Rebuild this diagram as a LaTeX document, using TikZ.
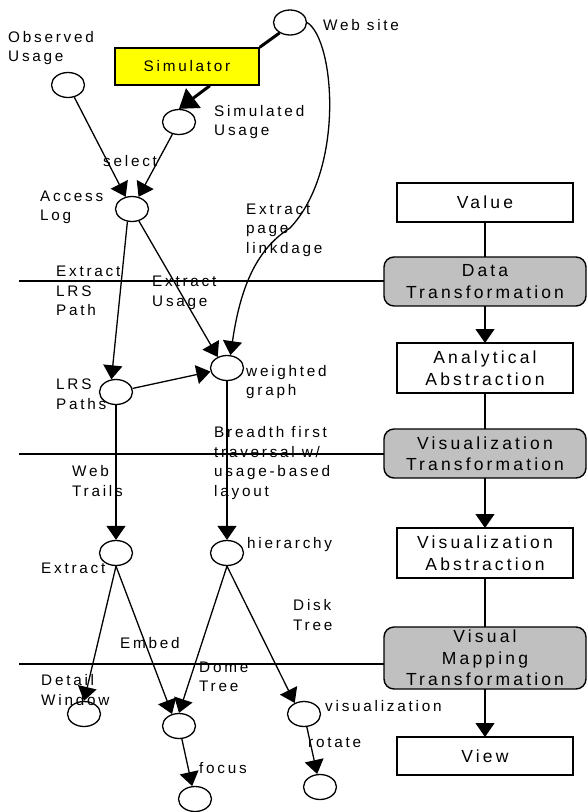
\documentclass[tikz,border=0pt]{standalone}
\usepackage{fontspec}
\setmainfont{Liberation Sans}[LetterSpace=18]
\usepackage{xcolor}
\usetikzlibrary{arrows.meta,positioning,shapes.geometric}
\definecolor{simyellow}{RGB}{255,255,0}
\definecolor{opgray}{RGB}{192,192,192}
\newcommand{\lblfont}{\fontsize{15.3}{19.5}\selectfont}
\newcommand{\boxfont}{\fontsize{17.5}{21.5}\selectfont}
\tikzset{
  datanode/.style={
    ellipse,
    draw=black,
    line width=1.3pt,
    minimum width=33pt,
    minimum height=25pt,
    inner sep=0pt,
    fill=white
  },
  lbl/.style={
    anchor=west,
    align=left,
    inner sep=0pt,
    font=\lblfont
  },
  stagebox/.style={
    rectangle,
    draw=black,
    line width=1.4pt,
    minimum width=176pt,
    outer sep=0pt,
    align=center,
    font=\boxfont,
    fill=white
  },
  opbox/.style={
    rectangle,
    rounded corners=10pt,
    draw=black,
    line width=1.4pt,
    minimum width=202pt,
    outer sep=0pt,
    inner sep=1pt,
    align=center,
    font=\boxfont,
    fill=opgray
  },
  simbox/.style={
    rectangle,
    draw=black,
    line width=1.4pt,
    minimum width=144pt,
    minimum height=37pt,
    font=\lblfont,
    fill=simyellow
  },
  link/.style={line width=1.3pt, black},
  flow/.style={-{Triangle[length=14pt,width=19pt]}, line width=1.3pt, black},
  heavy/.style={-{Triangle[length=18pt,width=24pt]}, line width=3pt, black}
}

\begin{document}
\begin{tikzpicture}[x=1pt,y=-1pt]
\useasboundingbox (0,0) rectangle (587,812);

\node[stagebox, minimum height=39pt] (value) at (485,202.5) {Value};
\node[opbox, minimum height=49pt, below=35pt of value] (dtrans) {Data\\Transformation};
\node[stagebox, minimum height=50pt, below=37pt of dtrans] (aabs) {Analytical\\Abstraction};
\node[opbox, minimum height=49pt, below=36pt of aabs] (vtrans) {Visualization\\Transformation};
\node[stagebox, minimum height=50pt, below=50pt of vtrans] (vabs) {Visualization\\Abstraction};
\node[opbox, minimum height=62pt, below=49pt of vabs] (vmtrans) {Visual\\Mapping\\Transformation};
\node[stagebox, minimum height=38pt, below=48pt of vmtrans] (view) {View};

\draw[link] (value) -- (dtrans);
\draw[flow] (dtrans) -- (aabs);
\draw[link] (aabs) -- (vtrans);
\draw[flow] (vtrans) -- (vabs);
\draw[link] (vabs) -- (vmtrans);
\draw[flow] (vmtrans) -- (view);

\coordinate (cut1) at (19,281);
\coordinate (cut2) at (19,454);
\coordinate (cut3) at (19,664);
\draw[link] (cut1) -- (cut1 -| dtrans.west);
\draw[link] (cut2) -- (cut2 -| vtrans.west);
\draw[link] (cut3) -- (cut3 -| vmtrans.west);

\node[datanode] (web) at (290,22.5) {};
\node[simbox] (simulator) at (187,66.5) {Simulator};
\node[datanode] (obs) at (68,85) {};
\node[datanode] (simu) at (179,122) {};
\node[datanode] (alog) at (132,209) {};
\node[datanode] (lrs) at (116,392) {};
\node[datanode] (wg) at (227,368) {};
\node[datanode] (ext) at (116,553) {};
\node[datanode] (hier) at (227,553) {};
\node[datanode] (dwin) at (84,714) {};
\node[datanode] (dome) at (179,726) {};
\node[datanode] (vis) at (304,714) {};
\node[datanode] (foc) at (195,799) {};
\node[datanode] (rot) at (320,787) {};

\node[lbl] at (323,25) {Web site};
\node[lbl] at (8,48) {Observed\\Usage};
\node[lbl] at (214,122) {Simulated\\Usage};
\node[lbl] at (103,161) {select};
\node[lbl] at (40,207.5) {Access\\Log};
\node[lbl] at (246,230) {Extract\\page\\linkdage};
\node[lbl] at (56,291) {Extract\\LRS\\Path};
\node[lbl] at (152,293) {Extract\\Usage};
\node[lbl] at (56,394) {LRS\\Paths};
\node[lbl] at (246,382) {weighted\\graph};
\node[lbl] at (214,463) {Breadth first\\traversal w/\\usage-based\\layout};
\node[lbl] at (72,481) {Web\\Trails};
\node[lbl] at (247,545) {hierarchy};
\node[lbl] at (41,568) {Extract};
\node[lbl] at (293,615) {Disk\\Tree};
\node[lbl] at (120,643) {Embed};
\node[lbl] at (199,677) {Dome\\Tree};
\node[lbl] at (41,690) {Detail\\Window};
\node[lbl] at (325,706) {visualization};
\node[lbl] at (199,768) {focus};
\node[lbl] at (308,743) {rotate};

\coordinate (bend) at (290,228);
\draw[line width=3pt] (web.225) -- (simulator.north east);
\draw[heavy] (simulator.-40) -- (simu.north);
\draw[flow] (obs) -- (alog);
\draw[flow] (simu) -- (alog);
\draw[flow] (alog.250) -- (lrs.110);
\draw[flow] (alog.-60) -- (wg.130);
\draw[flow] (web.east) .. controls (335,40) and (345,170) .. (bend)
  .. controls (255,250) and (240,290) .. (wg.75);
\draw[flow] (lrs) -- (wg);
\draw[flow] (lrs) -- (ext);
\draw[flow] (wg) -- (hier);
\draw[flow] (ext.south) -- (dwin.north);
\draw[flow] (ext.south) -- (dome.120);
\draw[flow] (hier.south) -- (dome.north);
\draw[flow] (hier.south) -- (vis.130);
\draw[flow] (dome) -- (foc);
\draw[flow] (vis) -- (rot);
\end{tikzpicture}
\end{document}
